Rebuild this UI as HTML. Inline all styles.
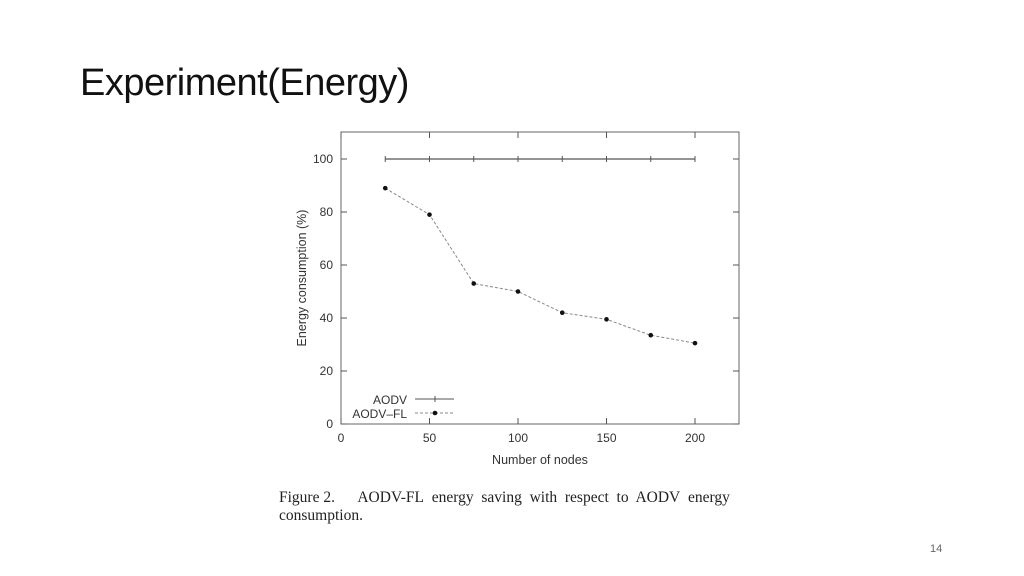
<!DOCTYPE html>
<html><head><meta charset="utf-8"><style>
body{margin:0;width:1024px;height:576px;background:#fff;overflow:hidden;font-family:"Liberation Sans",sans-serif;position:relative}
.title{position:absolute;left:80px;top:62px;font-size:38px;color:#111;letter-spacing:-0.5px}
.cap{position:absolute;left:279px;top:489px;font-family:"Liberation Serif",serif;font-size:15.5px;color:#222;line-height:18px;width:480px}
.pg{position:absolute;left:930px;top:543px;font-size:11px;color:#666}
</style></head><body>
<div class="title">Experiment(Energy)</div>
<svg width="1024" height="576" style="position:absolute;left:0;top:0">
<g id="g"></g>
</svg>
<div class="cap">Figure 2.&nbsp;&nbsp;&nbsp;&nbsp;&nbsp; AODV-FL&nbsp; energy&nbsp; saving&nbsp; with&nbsp; respect&nbsp; to&nbsp; AODV&nbsp; energy consumption.</div>
<div class="pg">14</div>
<script>
const nodes=[25,50,75,100,125,150,175,200];
const aodv=[100,100,100,100,100,100,100,100];
const aodvFl=[89,79,53,50,42,39.5,33.5,30.5];
const xTicks=[0,50,100,150,200];
const yTicks=[0,20,40,60,80,100];
const L=341,R=739,T=132,B=424;
const xs=v=>L+v*(695-341)/200;
const ys=v=>B-v*(B-159)/100;
const g=document.getElementById('g');
const NS='http://www.w3.org/2000/svg';
function mk(t,a,p){const e=document.createElementNS(NS,t);for(const k in a)e.setAttribute(k,a[k]);(p||g).appendChild(e);return e;}
let e=mk('rect',{x:L,y:T,width:R-L,height:B-T,fill:'none',stroke:'#666','stroke-width':1});


xTicks.forEach(v=>{const x=xs(v);
 mk('line',{x1:x,x2:x,y1:B,y2:B-6,stroke:'#555'});mk('line',{x1:x,x2:x,y1:T,y2:T+6,stroke:'#555'});
 const t=mk('text',{x:x,y:B+18,'text-anchor':'middle','font-size':12,fill:'#333'});t.textContent=v;
 
 });
yTicks.forEach(v=>{const y=ys(v);
 mk('line',{x1:L,x2:L+6,y1:y,y2:y,stroke:'#555'});mk('line',{x1:R,x2:R-6,y1:y,y2:y,stroke:'#555'});
 const t=mk('text',{x:L-8,y:y+4,'text-anchor':'end','font-size':12,fill:'#333'});t.textContent=v;
 
 });
let t=mk('text',{x:540,y:464,'text-anchor':'middle','font-size':12.5,fill:'#333'});t.textContent='Number of nodes';


t=mk('text',{x:0,y:0,'text-anchor':'middle','font-size':12.5,fill:'#333',transform:'translate(306,278) rotate(-90)'});t.textContent='Energy consumption (%)';


let l=mk('polyline',{points:nodes.map((n,i)=>xs(n)+','+ys(aodv[i])).join(' '),fill:'none',stroke:'#555','stroke-width':1.2});


nodes.forEach((n,i)=>{const p=mk('line',{x1:xs(n),x2:xs(n),y1:ys(aodv[i])-3,y2:ys(aodv[i])+3,stroke:'#555'});
 
 });
l=mk('polyline',{points:nodes.map((n,i)=>xs(n)+','+ys(aodvFl[i])).join(' '),fill:'none',stroke:'#888','stroke-width':1,'stroke-dasharray':'3,2'});


nodes.forEach((n,i)=>{const p=mk('circle',{cx:xs(n),cy:ys(aodvFl[i]),r:2.3,fill:'#111'});
 
 });
t=mk('text',{x:407,y:404,'text-anchor':'end','font-size':12,fill:'#333'});t.textContent='AODV';


mk('line',{x1:415,x2:454,y1:399,y2:399,stroke:'#555'});mk('line',{x1:435,x2:435,y1:396,y2:402,stroke:'#555'});
t=mk('text',{x:407,y:418,'text-anchor':'end','font-size':12,fill:'#333'});t.textContent='AODV–FL';


mk('line',{x1:415,x2:454,y1:413,y2:413,stroke:'#888','stroke-dasharray':'3,2'});mk('circle',{cx:435,cy:413,r:2.3,fill:'#111'});
</script>
</body></html>
